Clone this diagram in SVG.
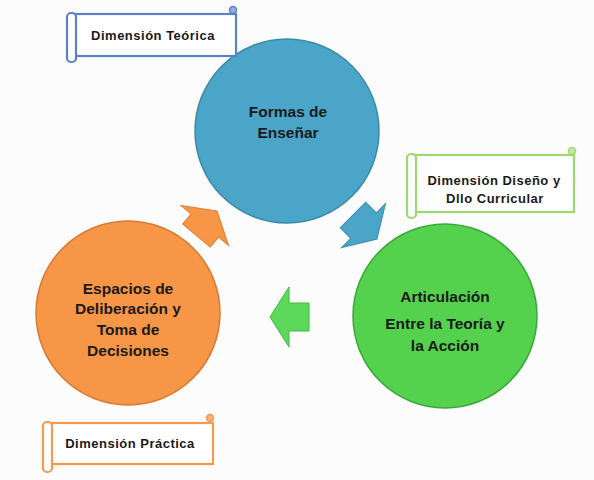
<svg xmlns="http://www.w3.org/2000/svg" width="594" height="480" viewBox="0 0 594 480">
<style>
.t{font-family:"Liberation Sans",Arial,sans-serif;font-weight:bold;fill:#1a1a1a;text-anchor:middle}
.c{font-size:15.5px}
.s{font-size:13px;letter-spacing:0.5px}
.scr{fill:#ffffff;stroke-width:2.2}
.sb{stroke:#5b82c4}
.sg{stroke:#9ed86f}
.so{stroke:#f59a4e}
</style>
<rect width="594" height="480" fill="#fcfcfc"/>
<g id="connectors">
<polygon points="0,0 -19,-31 -19,-18 -32,-18 -32,18 -19,18 -19,31" transform="translate(217,211) rotate(-50)" fill="#f79646" stroke="#e07d30" stroke-width="1"/>
<polygon points="0,0 -19,-31 -19,-18 -34,-18 -34,18 -19,18 -19,31" transform="translate(377,239) rotate(45)" fill="#4ba5c8" stroke="#3a8cb0" stroke-width="1"/>
<polygon points="0,0 -19,-30 -19,-14 -39,-14 -39,14 -19,14 -19,30" transform="translate(270,317) rotate(180)" fill="#5cd85a" stroke="#42b842" stroke-width="1"/>
</g>
<g id="node-formas">
<circle cx="287" cy="131" r="92" fill="#4ba5c8" stroke="#3a8aa8" stroke-width="1.5"/>
<text class="t c" x="288" y="117">Formas de</text>
<text class="t c" x="288" y="138">Enseñar</text>
</g>
<g id="node-articulacion">
<circle cx="445" cy="316" r="92" fill="#55d24d" stroke="#39a83a" stroke-width="1.5"/>
<text class="t c" x="445" y="302">Articulación</text>
<text class="t c" x="445" y="329">Entre la Teoría y</text>
<text class="t c" x="445" y="351">la Acción</text>
</g>
<g id="node-espacios">
<circle cx="128" cy="313" r="92" fill="#f79646" stroke="#d97a32" stroke-width="1.5"/>
<text class="t c" x="128" y="294">Espacios de</text>
<text class="t c" x="128" y="314">Deliberación y</text>
<text class="t c" x="128" y="335">Toma de</text>
<text class="t c" x="128" y="356">Decisiones</text>
</g>
<g id="scroll-teorica">
<rect class="scr sb" x="75" y="14" width="161" height="42"/>
<rect class="scr sb" x="67" y="13" width="9" height="49" rx="4"/>
<circle cx="233" cy="10" r="3.5" fill="#8fb0e0" class="sb" stroke-width="1.5"/>
<text class="t s" x="153" y="40">Dimensión Teórica</text>
</g>
<g id="scroll-diseno">
<rect class="scr sg" x="415" y="155" width="159" height="57"/>
<rect class="scr sg" x="407" y="154" width="9" height="64" rx="4"/>
<circle cx="572" cy="151" r="3.5" fill="#c4eaa8" class="sg" stroke-width="1.5"/>
<text class="t s" x="494" y="185">Dimensión Diseño y</text>
<text class="t s" x="495" y="203">Dllo Curricular</text>
</g>
<g id="scroll-practica">
<rect class="scr so" x="50" y="423" width="163" height="41"/>
<rect class="scr so" x="43" y="422" width="9" height="50" rx="4"/>
<circle cx="210" cy="418" r="3.5" fill="#f8b27a" class="so" stroke-width="1.5"/>
<text class="t s" x="130" y="448">Dimensión Práctica</text>
</g>
</svg>
